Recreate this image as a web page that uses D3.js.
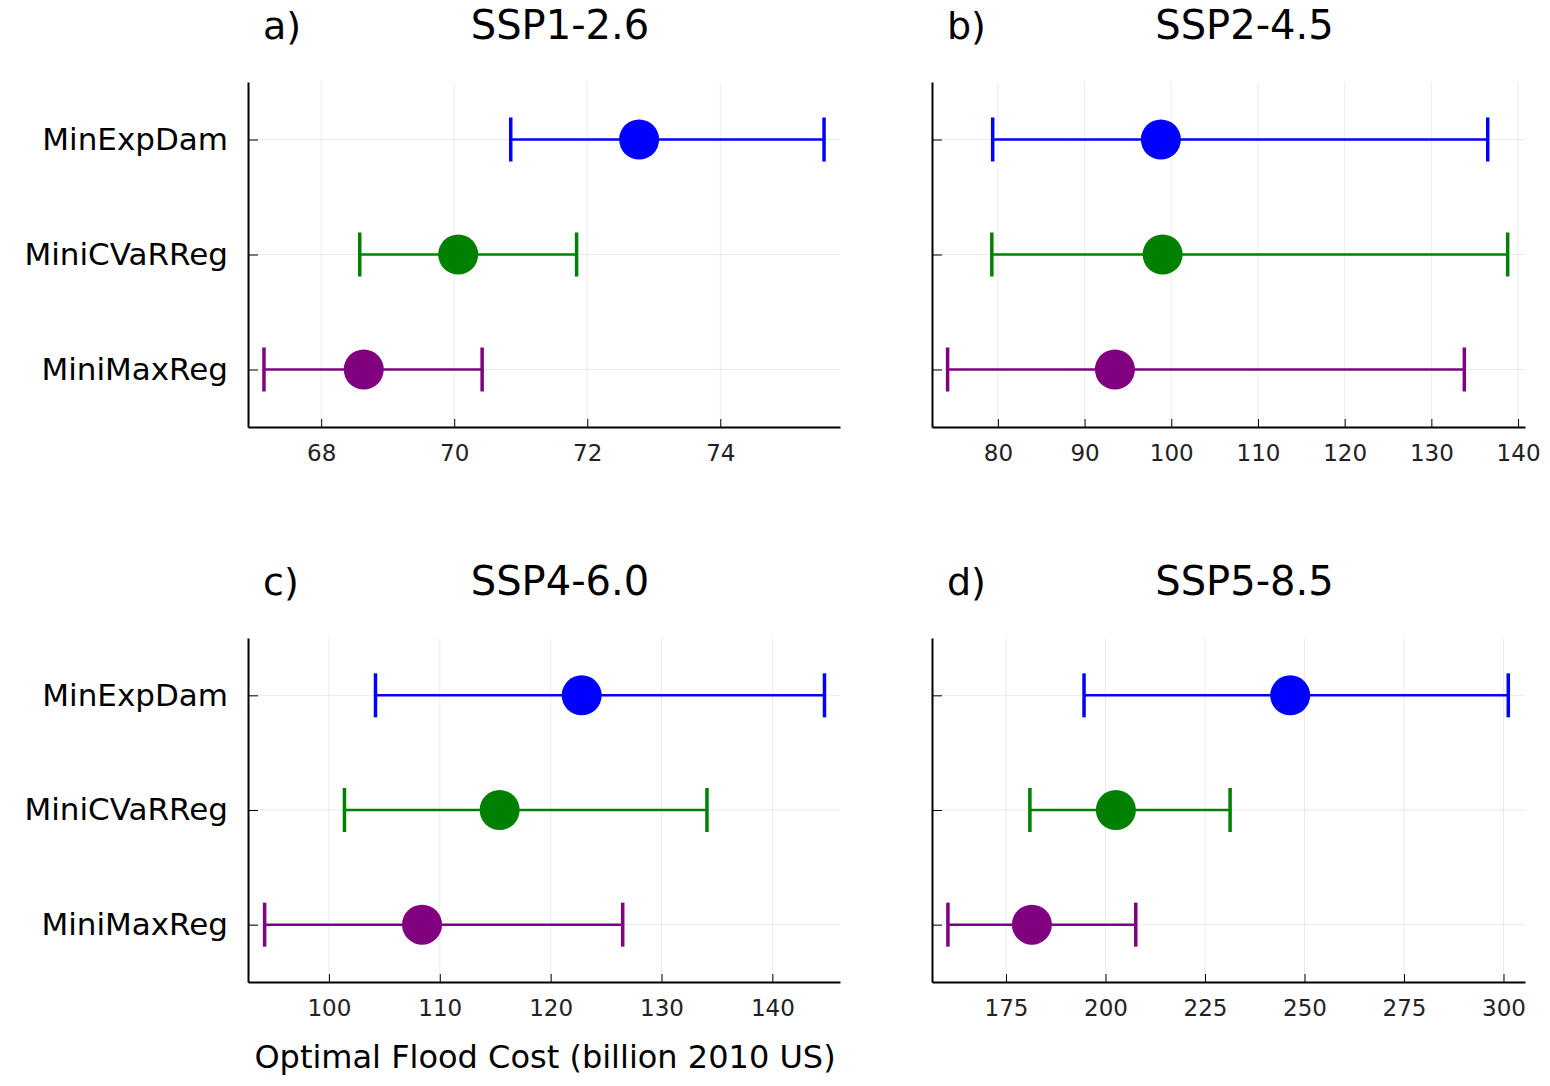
<!DOCTYPE html>
<html>
<head>
<meta charset="utf-8">
<script src="https://d3js.org/d3.v7.min.js"></script>
<style>
  body { margin: 0; background: #fff; }
  text { font-family: "DejaVu Sans", sans-serif; fill: #000; }
  .grid line { stroke: #000; stroke-opacity: 0.08; }
</style>
</head>
<body>
<div id="chart"></div>
<script>
var methods = ["MinExpDam", "MiniCVaRReg", "MiniMaxReg"];
var colors = ["#0000ff", "#008000", "#800080"];
var titles = ["SSP1-2.6", "SSP2-4.5", "SSP4-6.0", "SSP5-8.5"];
var letters = ["a)", "b)", "c)", "d)"];

// per panel: mean, low, high for each method
var meanA = [72.78, 70.06, 68.64], lowA = [70.85, 68.58, 67.14], highA = [75.56, 71.84, 70.42];
var meanB = [98.8, 99.0, 93.5], lowB = [79.4, 79.3, 74.2], highB = [136.5, 138.8, 133.8];
var meanC = [122.8, 115.4, 108.4], lowC = [104.2, 101.4, 94.2], highC = [144.7, 134.1, 126.5];
var meanD = [246.4, 202.6, 181.5], lowD = [194.6, 181.0, 160.4], highD = [301.2, 231.3, 207.6];

var domains = [[66.9, 75.8], [72.4, 140.8], [92.7, 146.1], [156.4, 305.4]];
var ticks = [[68, 70, 72, 74], [80, 90, 100, 110, 120, 130, 140],
             [100, 110, 120, 130, 140], [175, 200, 225, 250, 275, 300]];
var panels = [[meanA, lowA, highA], [meanB, lowB, highB], [meanC, lowC, highC], [meanD, lowD, highD]];

var svg = d3.select("#chart").append("svg").attr("width", 1550).attr("height", 1086);

var boxes = [
  {x0: 248, x1: 840, y0: 82, y1: 427, labels: true},
  {x0: 932, x1: 1525, y0: 82, y1: 427, labels: false},
  {x0: 248, x1: 840, y0: 638, y1: 982, labels: true},
  {x0: 932, x1: 1525, y0: 638, y1: 982, labels: false}
];

boxes.forEach(function(b, p) {
  var x = d3.scaleLinear().domain(domains[p]).range([b.x0, b.x1]);
  var y = d3.scalePoint().domain(methods).range([b.y0, b.y1]).padding(0.5);
  var g = svg.append("g");

  // grid
  var grid = g.append("g").attr("class", "grid");
  grid.selectAll(".gx").data(ticks[p]).enter().append("line")
    .attr("x1", d => x(d)).attr("x2", d => x(d)).attr("y1", b.y0).attr("y2", b.y1);
  grid.selectAll(".gy").data(methods).enter().append("line")
    .attr("x1", b.x0).attr("x2", b.x1).attr("y1", d => y(d)).attr("y2", d => y(d));

  // axes
  var xa = g.append("g").attr("transform", "translate(0," + b.y1 + ")")
    .call(d3.axisBottom(x).tickValues(ticks[p]).tickSize(0).tickPadding(18));
  xa.select(".domain").attr("stroke", "#000").attr("stroke-width", 2);
  xa.selectAll("text").style("font-size", "23px").style("fill", "#222");
  xa.selectAll(".tick").append("line").attr("y1", 0).attr("y2", -8).attr("stroke", "#000");

  var ya = g.append("g").attr("transform", "translate(" + b.x0 + ",0)")
    .call(d3.axisLeft(y).tickSize(0).tickPadding(20).tickFormat(b.labels ? null : ""));
  ya.select(".domain").attr("stroke", "#000").attr("stroke-width", 2);
  ya.selectAll("text").style("font-size", "31px");
  ya.selectAll(".tick").append("line").attr("x1", 0).attr("x2", 10).attr("stroke", "#000");

  // error bars
  var d = panels[p];
  methods.forEach(function(m, i) {
    var c = colors[i], yy = y(m);
    g.append("line").attr("x1", x(d[1][i])).attr("x2", x(d[2][i]))
      .attr("y1", yy).attr("y2", yy).attr("stroke", c).attr("stroke-width", 2.5);
    [d[1][i], d[2][i]].forEach(function(v) {
      g.append("line").attr("x1", x(v)).attr("x2", x(v))
        .attr("y1", yy - 22).attr("y2", yy + 22).attr("stroke", c).attr("stroke-width", 3.5);
    });
    g.append("circle").attr("cx", x(d[0][i])).attr("cy", yy).attr("r", 20).attr("fill", c);
  });

  // titles
  svg.append("text").attr("x", b.x0 + 15).attr("y", b.y0 - 43).style("font-size", "38px").text(letters[p]);
  svg.append("text").attr("x", (b.x0 + b.x1) / 2 + 16).attr("y", b.y0 - 43)
    .attr("text-anchor", "middle").style("font-size", "40px").text(titles[p]);
});

svg.append("text").attr("x", 545).attr("y", 1068).attr("text-anchor", "middle")
  .style("font-size", "32px").text("Optimal Flood Cost (billion 2010 US)");
</script>
</body>
</html>
